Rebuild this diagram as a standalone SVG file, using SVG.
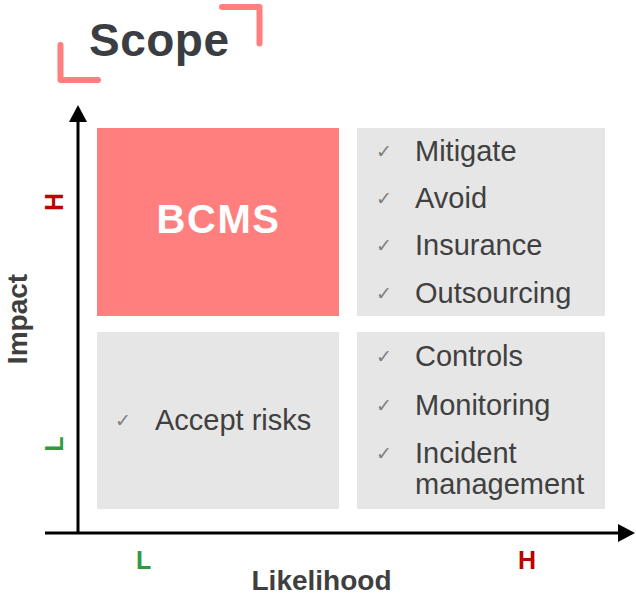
<svg xmlns="http://www.w3.org/2000/svg" width="636" height="596" viewBox="0 0 636 596">
<style>
.box{fill:#E6E6E6}
.item{font-family:"Liberation Sans",Arial,sans-serif;font-size:29px;fill:#404040}
.chk{font-family:"DejaVu Sans",sans-serif;font-size:19px;fill:#7F7F7F}
.lbl{font-family:"Liberation Sans",Arial,sans-serif;font-size:28px;font-weight:bold;fill:#3F3F3F}
.hi{font-family:"Liberation Sans",Arial,sans-serif;font-size:25px;font-weight:bold;fill:#C00000}
.lo{font-family:"Liberation Sans",Arial,sans-serif;font-size:25px;font-weight:bold;fill:#2E9B3E}
.br{fill:none;stroke:#FF7F7F;stroke-width:6;stroke-linecap:round;stroke-linejoin:round}
.ax{stroke:#000;stroke-width:3;fill:none}
</style>
<rect width="636" height="596" fill="#FFFFFF"/>
<g id="title">
<path class="br" d="M60.5,45 V80 H98"/>
<path class="br" d="M222,7 H259.5 V43.5"/>
<text x="89" y="56" font-family="Liberation Sans,Arial,sans-serif" font-size="46" font-weight="bold" fill="#3A3D42" letter-spacing="0.5">Scope</text>
</g>
<g id="connectors">
<line class="ax" x1="78" y1="534" x2="78" y2="118"/>
<polygon points="78,105 69,122 87,122" fill="#000"/>
<line class="ax" x1="45" y1="533" x2="621" y2="533"/>
<polygon points="635,533 618,524 618,542" fill="#000"/>
</g>
<g id="bcms">
<rect x="97" y="128" width="242" height="188" fill="#FF7F7F"/>
<text x="218.5" y="233" text-anchor="middle" font-family="Liberation Sans,Arial,sans-serif" font-size="40" font-weight="bold" fill="#FFFFFF" letter-spacing="1.5">BCMS</text>
</g>
<g id="high-high">
<rect class="box" x="357" y="128" width="248" height="188"/>
<text class="chk" x="376" y="158">✓</text><text class="item" x="415" y="161">Mitigate</text>
<text class="chk" x="376" y="205">✓</text><text class="item" x="415" y="208">Avoid</text>
<text class="chk" x="376" y="252">✓</text><text class="item" x="415" y="255">Insurance</text>
<text class="chk" x="376" y="300">✓</text><text class="item" x="415" y="303">Outsourcing</text>
</g>
<g id="low-low">
<rect class="box" x="97" y="332" width="242" height="177"/>
<text class="chk" x="115" y="427">✓</text><text class="item" x="155" y="430">Accept risks</text>
</g>
<g id="low-high">
<rect class="box" x="357" y="332" width="248" height="177"/>
<text class="chk" x="376" y="363">✓</text><text class="item" x="415" y="366">Controls</text>
<text class="chk" x="376" y="412">✓</text><text class="item" x="415" y="415">Monitoring</text>
<text class="chk" x="376" y="460">✓</text><text class="item" x="415" y="463">Incident</text>
<text class="item" x="415" y="494">management</text>
</g>
<g id="labels">
<text class="lbl" transform="translate(27,319) rotate(-90)" text-anchor="middle">Impact</text>
<text class="hi" transform="translate(63,202) rotate(-90)" text-anchor="middle">H</text>
<text class="lo" transform="translate(63,444) rotate(-90)" text-anchor="middle">L</text>
<text class="lo" x="136" y="569">L</text>
<text class="hi" x="518" y="569">H</text>
<text class="lbl" x="321.5" y="590" text-anchor="middle">Likelihood</text>
</g>
</svg>
